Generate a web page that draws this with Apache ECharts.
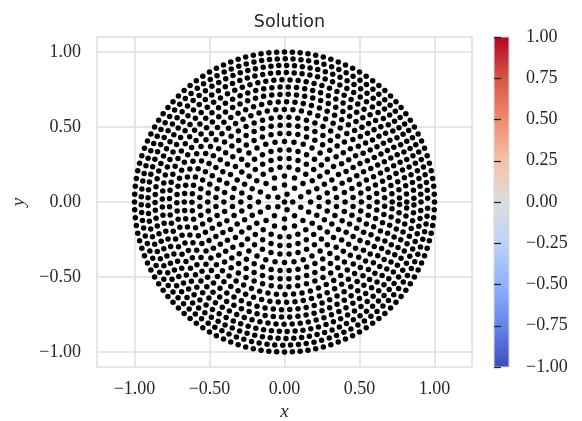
<!DOCTYPE html>
<html>
<head>
<meta charset="utf-8">
<script src="https://cdn.jsdelivr.net/npm/echarts@6/dist/echarts.min.js"></script>
<style>
  html, body { margin: 0; padding: 0; background: #fff; }
  #content { width: 582px; height: 421px; }
</style>
</head>
<body>
<div id="content"></div>
<script>
// tick labels
var xTicks = [-1, -0.5, 0, 0.5, 1];
var yTicks = [-1, -0.5, 0, 0.5, 1];
var cbTicks = [-1, -0.75, -0.5, -0.25, 0, 0.25, 0.5, 0.75, 1];

// node rings (radius) and the angles (deg) of the nodes on each ring
var ringRadius = [1.0, 0.955, 0.91, 0.863, 0.815, 0.767, 0.718, 0.668, 0.617, 0.565,
    0.512, 0.458, 0.404, 0.348, 0.291, 0.233, 0.174, 0.114, 0.055, 0];
var ringAngles = [
    [0,3,6,9,12,15,18,21,24,27,30,33,36,39,42,45,48,51,54,57,60,63,66,69,72,75,78,81,84,87,90,93,96,99,102,105,108,111,114,117,120,123,126,129,132,135,138,141,144,147,150,153,156,159,162,165,168,171,174,177,180,183,186,189,192,195,198,201,204,207,210,213,216,219,222,225,228,231,234,237,240,243,246,249,252,255,258,261,264,267,270,273,276,279,282,285,288,291,294,297,300,303,306,309,312,315,318,321,324,327,330,333,336,339,342,345,348,351,354,357],
    [1.5,4.7,7.8,11,14.1,17.3,20.4,23.6,26.7,29.9,33,36.2,39.3,42.5,45.6,48.8,51.9,55.1,58.2,61.4,64.5,67.7,70.8,74,77.1,80.3,83.4,86.6,89.7,92.9,96,99.2,102.3,105.5,108.6,111.8,114.9,118.1,121.2,124.4,127.5,130.7,133.8,137,140.1,143.3,146.4,149.6,152.7,155.9,159,162.2,165.3,168.5,171.6,174.8,177.9,181.1,184.2,187.4,190.5,193.7,196.8,200,203.1,206.3,209.4,212.6,215.7,218.9,222,225.2,228.3,231.5,234.6,237.8,240.9,244.1,247.2,250.4,253.5,256.7,259.8,263,266.1,269.3,272.4,275.6,278.7,281.9,285,288.2,291.3,294.5,297.6,300.8,303.9,307.1,310.2,313.4,316.5,319.7,322.8,326,329.1,332.3,335.4,338.6,341.7,344.9,348,351.2,354.3,357.5],
    [0,3.3,6.6,9.9,13.2,16.5,19.8,23.1,26.4,29.7,33,36.3,39.6,42.9,46.2,49.5,52.8,56.1,59.4,62.7,66,69.3,72.6,75.9,79.2,82.5,85.8,89.1,92.4,95.7,99,102.3,105.6,108.9,112.2,115.5,118.8,122.1,125.4,128.7,132,135.3,138.6,141.9,145.2,148.5,151.8,155.1,158.4,161.7,165,168.3,171.6,174.9,178.2,181.5,184.8,188.1,191.4,194.7,198,201.3,204.6,207.9,211.2,214.5,217.8,221.1,224.4,227.7,231,234.3,237.6,240.9,244.2,247.5,250.8,254.1,257.4,260.7,264,267.3,270.6,273.9,277.2,280.5,283.8,287.1,290.4,293.7,297,300.3,303.6,306.9,310.2,313.5,316.8,320.1,323.4,326.7,330,333.3,336.6,339.9,343.2,346.5,349.8,353.1,356.4],
    [1.7,5.2,8.7,12.2,15.7,19.2,22.7,26.2,29.7,33.2,36.7,40.2,43.7,47.2,50.7,54.2,57.7,61.2,64.7,68.2,71.7,75.2,78.7,82.2,85.7,89.2,92.7,96.2,99.7,103.2,106.7,110.2,113.7,117.2,120.7,124.2,127.7,131.2,134.7,138.2,141.7,145.2,148.7,152.2,155.7,159.2,162.7,166.2,169.7,173.2,176.7,180.2,183.7,187.2,190.7,194.2,197.7,201.2,204.7,208.2,211.7,215.2,218.7,222.2,225.7,229.2,232.7,236.2,239.7,243.2,246.7,250.2,253.7,257.2,260.7,264.2,267.7,271.2,274.7,278.2,281.7,285.2,288.7,292.2,295.7,299.2,302.7,306.2,309.7,313.2,316.7,320.2,323.7,327.2,330.7,334.2,337.7,341.2,344.7,348.2,351.7,355.2,358.7],
    [0,3.8,7.6,11.4,15.2,19,22.8,26.6,30.4,34.2,38,41.8,45.6,49.4,53.2,57,60.8,64.6,68.4,72.2,76,79.8,83.6,87.4,91.2,95,98.8,102.6,106.4,110.2,114,117.8,121.6,125.4,129.2,133,136.8,140.6,144.4,148.2,152,155.8,159.6,163.4,167.2,171,174.8,178.6,182.4,186.2,190,193.8,197.6,201.4,205.2,209,212.8,216.6,220.4,224.2,228,231.8,235.6,239.4,243.2,247,250.8,254.6,258.4,262.2,266,269.8,273.6,277.4,281.2,285,288.8,292.6,296.4,300.2,304,307.8,311.6,315.4,319.2,323,326.8,330.6,334.4,338.2,342,345.8,349.6,353.4,357.2],
    [2,6.1,10.2,14.3,18.4,22.5,26.6,30.7,34.8,38.9,43,47.1,51.2,55.3,59.4,63.5,67.6,71.7,75.8,79.9,84,88.1,92.2,96.3,100.4,104.5,108.6,112.7,116.8,120.9,125,129.1,133.2,137.3,141.4,145.5,149.6,153.7,157.8,161.9,166,170.1,174.2,178.3,182.4,186.5,190.6,194.7,198.8,202.9,207,211.1,215.2,219.3,223.4,227.5,231.6,235.7,239.8,243.9,248,252.1,256.2,260.3,264.4,268.5,272.6,276.7,280.8,284.9,289,293.1,297.2,301.3,305.4,309.5,313.6,317.7,321.8,325.9,330,334.1,338.2,342.3,346.4,350.5,354.6,358.7],
    [0,4.4,8.8,13.2,17.6,22,26.4,30.8,35.2,39.6,44,48.4,52.8,57.2,61.6,66,70.4,74.8,79.2,83.6,88,92.4,96.8,101.2,105.6,110,114.4,118.8,123.2,127.6,132,136.4,140.8,145.2,149.6,154,158.4,162.8,167.2,171.6,176,180.4,184.8,189.2,193.6,198,202.4,206.8,211.2,215.6,220,224.4,228.8,233.2,237.6,242,246.4,250.8,255.2,259.6,264,268.4,272.8,277.2,281.6,286,290.4,294.8,299.2,303.6,308,312.4,316.8,321.2,325.6,330,334.4,338.8,343.2,347.6,352,356.4],
    [2.4,7.2,12,16.8,21.6,26.4,31.2,36,40.8,45.6,50.4,55.2,60,64.8,69.6,74.4,79.2,84,88.8,93.6,98.4,103.2,108,112.8,117.6,122.4,127.2,132,136.8,141.6,146.4,151.2,156,160.8,165.6,170.4,175.2,180,184.8,189.6,194.4,199.2,204,208.8,213.6,218.4,223.2,228,232.8,237.6,242.4,247.2,252,256.8,261.6,266.4,271.2,276,280.8,285.6,290.4,295.2,300,304.8,309.6,314.4,319.2,324,328.8,333.6,338.4,343.2,348,352.8,357.6],
    [0,5.3,10.6,15.9,21.2,26.5,31.8,37.1,42.4,47.7,53,58.3,63.6,68.9,74.2,79.5,84.8,90.1,95.4,100.7,106,111.3,116.6,121.9,127.2,132.5,137.8,143.1,148.4,153.7,159,164.3,169.6,174.9,180.2,185.5,190.8,196.1,201.4,206.7,212,217.3,222.6,227.9,233.2,238.5,243.8,249.1,254.4,259.7,265,270.3,275.6,280.9,286.2,291.5,296.8,302.1,307.4,312.7,318,323.3,328.6,333.9,339.2,344.5,349.8,355.1],
    [3,9,15,21,27,33,39,45,51,57,63,69,75,81,87,93,99,105,111,117,123,129,135,141,147,153,159,165,171,177,183,189,195,201,207,213,219,225,231,237,243,249,255,261,267,273,279,285,291,297,303,309,315,321,327,333,339,345,351,357],
    [0,6.7,13.3,20,26.7,33.3,40,46.7,53.3,60,66.7,73.3,80,86.7,93.3,100,106.7,113.3,120,126.7,133.3,140,146.7,153.3,160,166.7,173.3,180,186.7,193.3,200,206.7,213.3,220,226.7,233.3,240,246.7,253.3,260,266.7,273.3,280,286.7,293.3,300,306.7,313.3,320,326.7,333.3,340,346.7,353.3],
    [3.8,11.3,18.8,26.3,33.8,41.3,48.8,56.3,63.8,71.3,78.8,86.3,93.8,101.3,108.8,116.3,123.8,131.3,138.8,146.3,153.8,161.3,168.8,176.3,183.8,191.3,198.8,206.3,213.8,221.3,228.8,236.3,243.8,251.3,258.8,266.3,273.8,281.3,288.8,296.3,303.8,311.3,318.8,326.3,333.8,341.3,348.8,356.3],
    [0,9,18,27,36,45,54,63,72,81,90,99,108,117,126,135,144,153,162,171,180,189,198,207,216,225,234,243,252,261,270,279,288,297,306,315,324,333,342,351],
    [5,15,25,35,45,55,65,75,85,95,105,115,125,135,145,155,165,175,185,195,205,215,225,235,245,255,265,275,285,295,305,315,325,335,345,355],
    [0,12,24,36,48,60,72,84,96,108,120,132,144,156,168,180,192,204,216,228,240,252,264,276,288,300,312,324,336,348],
    [7.5,22.5,37.5,52.5,67.5,82.5,97.5,112.5,127.5,142.5,157.5,172.5,187.5,202.5,217.5,232.5,247.5,262.5,277.5,292.5,307.5,322.5,337.5,352.5],
    [0,22.5,45,67.5,90,112.5,135,157.5,180,202.5,225,247.5,270,292.5,315,337.5],
    [18,54,90,126,162,198,234,270,306,342],
    [0,72,144,216,288],
    [0]
];

var chart = echarts.init(document.getElementById('content'), null, { renderer: 'canvas' });

var points = [];
ringAngles.forEach(function (angles, i) {
    angles.forEach(function (a) {
        points.push([ringRadius[i], a]);
    });
});

function fmt(v) {
    return (v < 0 ? '\u2212' : '') + Math.abs(v).toFixed(2);
}
function onTick(list, v) {
    return list.some(function (t) { return Math.abs(t - v) < 1e-6; });
}

var gridColor = '#dedede';
var textColor = '#262626';
var serif = 'Liberation Serif';

var coolwarm = new echarts.graphic.LinearGradient(0, 0, 0, 1, [
    { offset: 0, color: '#b40426' },
    { offset: 0.125, color: '#d75445' },
    { offset: 0.25, color: '#f08a6c' },
    { offset: 0.375, color: '#f5c1a8' },
    { offset: 0.5, color: '#dddddd' },
    { offset: 0.625, color: '#bcd2f7' },
    { offset: 0.75, color: '#8fb1fe' },
    { offset: 0.875, color: '#6384eb' },
    { offset: 1, color: '#3b4cc0' }
]);

var gridLines = xTicks.map(function (v) { return { xAxis: v }; })
    .concat(yTicks.map(function (v) { return { yAxis: v }; }));

var option = {
    backgroundColor: '#fff',
    animation: false,
    title: {
        text: 'Solution',
        left: 284.5,
        top: 8,
        textAlign: 'center',
        textStyle: { fontFamily: 'DejaVu Sans', fontSize: 17.5, fontWeight: 'normal', color: textColor }
    },
    grid: [
        { left: 97, top: 37, width: 375, height: 330, show: true, backgroundColor: '#fff',
          borderColor: gridColor, borderWidth: 1.5, outerBoundsMode: 'none', containLabel: false },
        { left: 494, top: 37, width: 15, height: 330, show: true, backgroundColor: coolwarm,
          borderColor: '#d8d8d8', borderWidth: 1, outerBoundsMode: 'none', containLabel: false }
    ],
    xAxis: [
        {
            gridIndex: 0, type: 'value', min: -1.25, max: 1.25, interval: 0.25,
            name: 'x', nameLocation: 'middle', nameGap: 30,
            nameTextStyle: { fontFamily: serif, fontStyle: 'italic', fontSize: 19, color: textColor },
            axisLine: { show: false }, axisTick: { show: false }, splitLine: { show: false },
            axisLabel: {
                margin: 13, fontFamily: serif, fontSize: 18, color: textColor,
                formatter: function (v) { return onTick(xTicks, v) ? fmt(v) : ''; }
            }
        },
        { gridIndex: 1, type: 'value', min: 0, max: 1, show: false }
    ],
    yAxis: [
        {
            gridIndex: 0, type: 'value', min: -1.1, max: 1.1, interval: 0.1,
            name: 'y', nameLocation: 'middle', nameGap: 66, nameRotate: 90,
            nameTextStyle: { fontFamily: serif, fontStyle: 'italic', fontSize: 19, color: textColor },
            axisLine: { show: false }, axisTick: { show: false }, splitLine: { show: false },
            axisLabel: {
                margin: 16, fontFamily: serif, fontSize: 18, color: textColor,
                formatter: function (v) { return onTick(yTicks, v) ? fmt(v) : ''; }
            }
        },
        {
            gridIndex: 1, type: 'value', position: 'right',
            min: cbTicks[0], max: cbTicks[cbTicks.length - 1], interval: 0.25,
            axisLine: { show: false },
            axisTick: { show: true, length: 7, lineStyle: { color: textColor, width: 1.3 } },
            splitLine: { show: false },
            axisLabel: {
                margin: 17, fontFamily: serif, fontSize: 18, color: textColor,
                formatter: function (v) { return fmt(v); }
            }
        }
    ],
    polar: { center: [284.5, 202], radius: 150 },
    angleAxis: {
        type: 'value', min: 0, max: 360, startAngle: 0, clockwise: false, show: false,
        splitLine: { show: false }, axisLine: { show: false }
    },
    radiusAxis: {
        type: 'value', min: 0, max: 1, show: false,
        splitLine: { show: false }, axisLine: { show: false }
    },
    series: [
        {
            // grid lines of the main axes
            type: 'scatter', xAxisIndex: 0, yAxisIndex: 0, data: [], z: 1, silent: true,
            markLine: {
                silent: true, symbol: 'none', label: { show: false },
                lineStyle: { color: gridColor, width: 1.5, type: 'solid' },
                emphasis: { disabled: true },
                data: gridLines
            }
        },
        {
            name: 'nodes', type: 'scatter', coordinateSystem: 'polar',
            data: points, symbolSize: 5.5, z: 5,
            itemStyle: { color: '#000', opacity: 1 },
            silent: true
        }
    ]
};

chart.setOption(option);
</script>
</body>
</html>
